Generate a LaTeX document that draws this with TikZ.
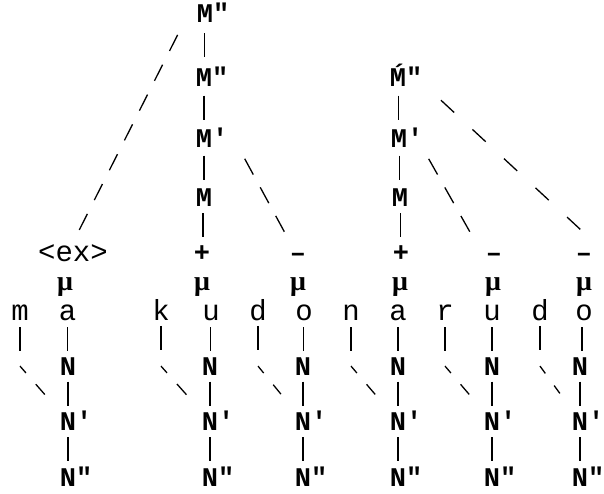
\documentclass[tikz,border=0pt]{standalone}
\usepackage{fontspec}
\usetikzlibrary{calc}
\newfontfamily\tw{Liberation Mono}
\newfontfamily\gr{Liberation Serif}
\newcommand{\typ}{\tw\fontsize{14.5pt}{16pt}\selectfont}
\newcommand{\sq}{\smash{\rlap{\char"27}}}
\newcommand{\dq}{\smash{\rlap{\char"22}}}
\newcommand{\acM}{\smash{\char"1E3E}\vphantom{M}}
\newcommand{\mns}{\char"2013}

\begin{document}
\begin{tikzpicture}[x=0.5pt,y=-0.5pt,line width=0.65pt,
    every node/.style={font=\typ,inner sep=1pt,anchor=base},
    hd/.style={font=\tw\fontsize{13.5pt}{15pt}\selectfont\bfseries},
    gk/.style={font=\gr\fontsize{14pt}{15pt}\selectfont\bfseries},
    bar/.style={to path={($(\tikztostart)!.5!(\tikztotarget)$) +(0,-12) -- +(0,12)}},
    slashes/.style 2 args={dash pattern=on 9pt off #1,shorten <=#2,shorten >=#2},
    kink/.style={dash pattern=on 9pt off 7.5pt,dash phase=4.5pt,shorten >=10pt}]
  \useasboundingbox (0,0) rectangle (604,493);
  % M projections
  \node[hd] (topM) at (205,22) {M\dq};
  \node[hd] (M2L) at (204,86) {M\dq};
  \node[hd] (M1L) at (204,147) {M\sq};
  \node[hd] (M0L) at (204,206) {M};
  \node[hd] (M2R) at (398,86) {\acM\dq};
  \node[hd] (M1R) at (399,147) {M\sq};
  \node[hd] (M0R) at (400,206) {M};
  \node (ex) at (73,261) {<ex>};
  \foreach \x/\n/\t in {202/plusL/+,298/minusL/\mns,401/plusR/+,494/minusR/\mns,584/minusRR/\mns}
    \node[hd] (\n) at (\x,261) {\t};
  \foreach \x/\n in {65/0,202/1,298/2,400/3,493/4,584/5}
    \node[gk] (mu\n) at (\x,290) {μ};
  % segments
  \foreach \x/\n/\t in {20/m/m,67.5/a1/a,161/k/k,211/u1/u,258/d1/d,304/o1/o,351/n/n,398/a2/a,445/r/r,492/u2/u,540/d2/d,584/o2/o}
    \node (\n) at (\x,320) {\t};
  \foreach \x/\n in {68/1,210/2,303/3,398/4,492/5,580/6} {
    \node[hd] (N\n) at (\x,375) {N};
    \node[hd] (Np\n) at (\x,430) {N\sq};
    \node[hd] (Npp\n) at (\x,486) {N\dq};
  }
  % connectors
  \foreach \a/\b in {topM/M2L,M2L/M1L,M1L/M0L,M0L/plusL,M2R/M1R,M1R/M0R,M0R/plusR}
    \draw (\a) to[bar] (\b);
  \draw[slashes={7.7pt}{12.2pt}] ([xshift=-8.2pt]topM.center) -- ([xshift=-2.6pt]ex.center);
  \draw[slashes={7.25pt}{11.75pt}] ([xshift=14.75pt]M1L.center) -- (minusL.center);
  \draw[slashes={7.4pt}{11.9pt}] ([xshift=9pt]M1R.center) -- ([xshift=-5pt]minusR.center);
  \draw[slashes={12.5pt}{17pt}] ([xshift=9pt]M2R.center) -- ([xshift=13pt]minusRR.center);
  \foreach \s/\n in {a1/1,u1/2,o1/3,a2/4,u2/5,o2/6} {
    \draw (\s) to[bar] (N\n);
    \draw (N\n) to[bar] (Np\n);
    \draw (Np\n) to[bar] (Npp\n);
  }
  \foreach \s/\n in {m/1,k/2,d1/3,n/4,r/5,d2/6} {
    \coordinate (bend\n) at (\s |- N\n);
    \draw (\s) to[bar] (bend\n);
    \draw[kink] (bend\n) -- (Np\n);
  }
\end{tikzpicture}
\end{document}
